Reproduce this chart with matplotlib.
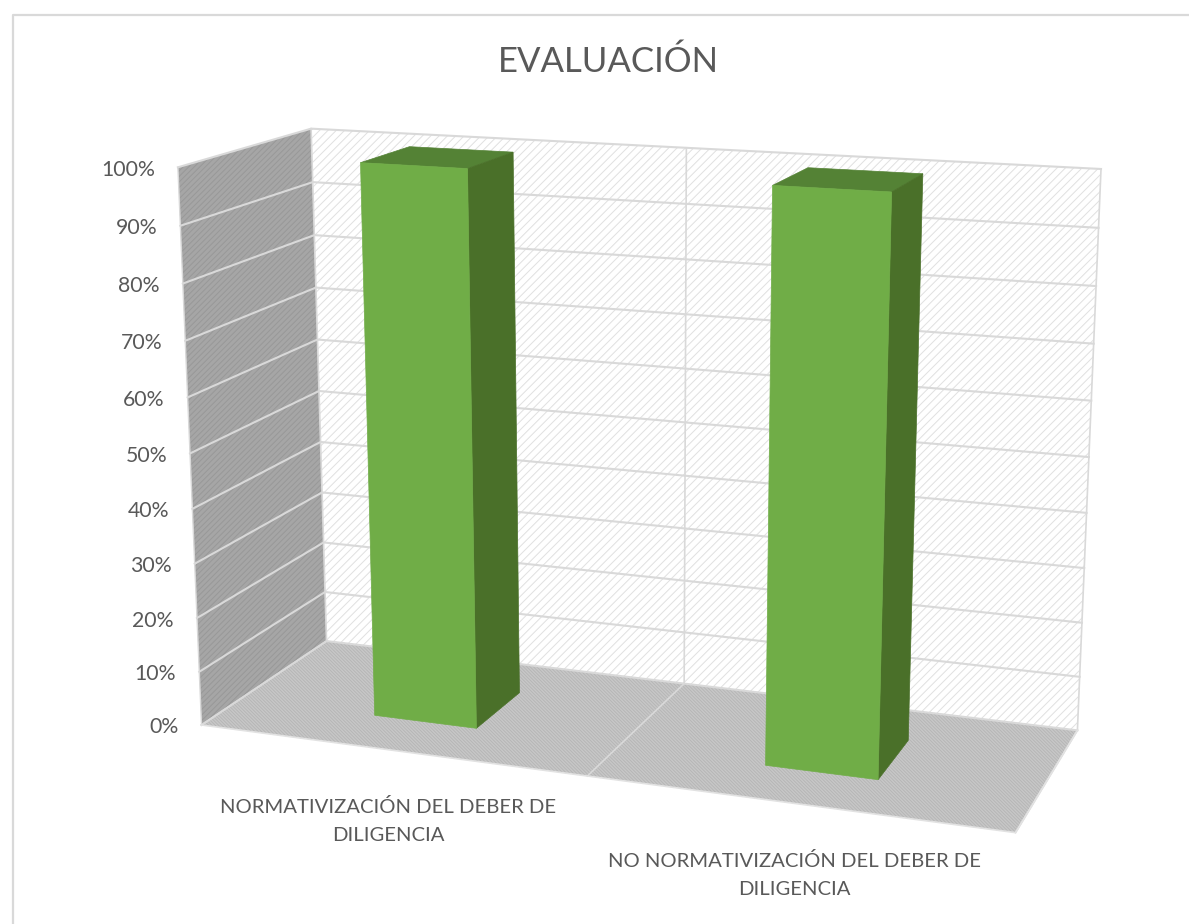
import numpy as np
import matplotlib
matplotlib.use("Agg")
import matplotlib.pyplot as plt
from matplotlib.patches import Polygon

# ---- data ----
categories = [["NORMATIVIZACIÓN DEL DEBER DE", "DILIGENCIA"],
              ["NO NORMATIVIZACIÓN DEL DEBER DE", "DILIGENCIA"]]
values = [1.00, 1.00]
tick_values = [0.0, 0.1, 0.2, 0.3, 0.4, 0.5, 0.6, 0.7, 0.8, 0.9, 1.0]
tick_labels = ["0%", "10%", "20%", "30%", "40%", "50%", "60%", "70%", "80%", "90%", "100%"]
title = "EVALUACIÓN"

# ---- layout: projected corners of the 3D box (cat, value, depth) -> pixels ----
W, H = 1189, 924
box = [((0, 0, 0), (201, 724)), ((0, 1, 0), (178, 168)),
       ((0, 0, 1), (327, 642)), ((0, 1, 1), (311, 128)),
       ((2, 0, 1), (1077, 730)), ((2, 1, 1), (1101, 169)),
       ((2, 0, 0), (1016, 833))]
A = []
b = []
for (x, y, z), (u, v) in box:
    A.append([x, y, z, 1, 0, 0, 0, 0, -u*x, -u*y, -u*z]); b.append(u)
    A.append([0, 0, 0, 0, x, y, z, 1, -v*x, -v*y, -v*z]); b.append(v)
P = np.append(np.linalg.lstsq(np.array(A, float), np.array(b, float), rcond=None)[0], 1).reshape(3, 4)


def proj(x, y, z):
    q = P @ np.array([x, y, z, 1.0])
    return q[0] / q[2], q[1] / q[2]


plt.rcParams['font.family'] = ['Lato', 'DejaVu Sans']
fig = plt.figure(figsize=(W/100, H/100), dpi=100)
ax = fig.add_axes([0, 0, 1, 1])
ax.set_xlim(0, W)
ax.set_ylim(H, 0)
ax.axis('off')

# chart frame
ax.plot([13, 13, W], [H, 15, 15], color='#d9d9d9', lw=1.6, zorder=1)


def quad(pts, **kw):
    ax.add_patch(Polygon([proj(*p) for p in pts], closed=True, **kw))


# walls with hatched pattern fills
plt.rcParams['hatch.linewidth'] = 0.7
quad([(0, 0, 1), (2, 0, 1), (2, 1, 1), (0, 1, 1)], facecolor='#ffffff', edgecolor='#e0e0e0', hatch='////', lw=0, zorder=2)
quad([(0, 0, 0), (0, 0, 1), (0, 1, 1), (0, 1, 0)], facecolor='#a6a6a6', edgecolor='#989898', hatch='//////', lw=0, zorder=2)
quad([(0, 0, 0), (2, 0, 0), (2, 0, 1), (0, 0, 1)], facecolor='#c8c8c8', edgecolor='#b6b6b6', hatch='\\\\\\\\\\\\\\\\\\\\', lw=0, zorder=2)

# gridlines
GRID = '#d9d9d9'
for t in tick_values:
    pts = [proj(0, t, 0), proj(0, t, 1), proj(2, t, 1)]
    ax.plot(*zip(*pts), color=GRID, lw=1.5, zorder=3, solid_joinstyle='round')
for cx in [0, 1, 2]:
    pts = [proj(cx, 0, 0), proj(cx, 0, 1), proj(cx, 1, 1)]
    ax.plot(*zip(*pts), color=GRID, lw=1.2, zorder=3)
ax.plot(*zip(proj(0, 0, 0), proj(0, 1, 0)), color=GRID, lw=1.0, zorder=3)
ax.plot(*zip(proj(0, 0, 0), proj(2, 0, 0), proj(2, 0, 1)), color='#e2e2e2', lw=1.2, zorder=3)

# bars
BAR_W = 0.135
D0, D1 = 0.30, 0.70
FRONT, TOP, SIDE = '#70ad47', '#548235', '#4a7029'
for i, val in enumerate(values):
    x0, x1 = i + 0.5 - BAR_W, i + 0.5 + BAR_W
    quad([(x0, val, D0), (x1, val, D0), (x1, val, D1), (x0, val, D1)], facecolor=TOP, edgecolor=TOP, lw=0.5, zorder=5)
    quad([(x1, 0, D0), (x1, 0, D1), (x1, val, D1), (x1, val, D0)], facecolor=SIDE, edgecolor=SIDE, lw=0.5, zorder=5)
    quad([(x0, 0, D0), (x1, 0, D0), (x1, val, D0), (x0, val, D0)], facecolor=FRONT, edgecolor=FRONT, lw=0.5, zorder=6)

# value labels along the front-left edge
TEXT = '#595959'
for t, lab in zip(tick_values, tick_labels):
    px, py = proj(0, t, 0)
    ax.text(px - 23, py + 2.5, lab, ha='right', va='center', fontsize=15.3, color=TEXT, zorder=7)

# category labels
for i, lines in enumerate(categories):
    px, py = proj(i + 0.5, 0, 0)
    for j, s in enumerate(lines):
        ax.text(px - 1, py + 57 + j * 28.5, s, ha='center', va='center', fontsize=14.6, color=TEXT, zorder=7)

ax.text(608, 62, title, ha='center', va='center', fontsize=25, color=TEXT, zorder=7)

fig.savefig('out.png', dpi=100)
